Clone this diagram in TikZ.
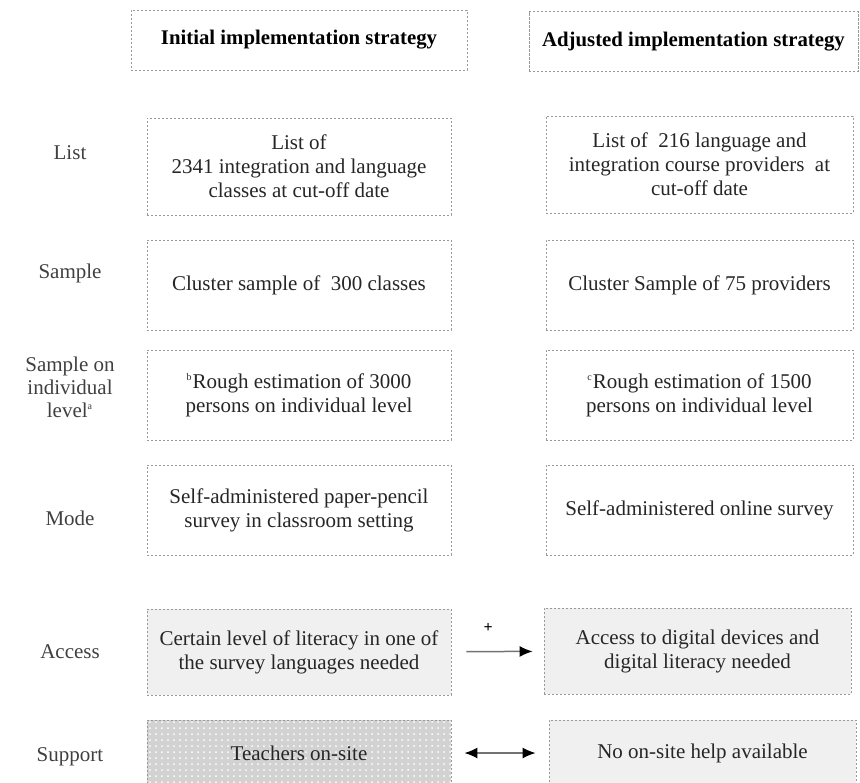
\documentclass[tikz,border=0pt]{standalone}
\usepackage{fontspec}
\setmainfont{Liberation Serif}
\usetikzlibrary{arrows.meta,patterns}

\begin{document}
\begin{tikzpicture}[x=0.5pt,y=-0.5pt,
  box/.style={draw=gray!80,dash pattern=on 1.2pt off 0.8pt,line width=0.4pt,align=center,inner sep=0pt,text=black!85,font=\fontsize{10.5}{12}\selectfont},
  leftbox/.style={box,minimum width=152pt,minimum height=45pt},
  rightbox/.style={box,minimum width=153.5pt,minimum height=45pt},
  headbox/.style={box,text=black,minimum height=30pt,font=\fontsize{10.4}{12}\selectfont\bfseries},
  rowlabel/.style={align=center,text=black!75,font=\fontsize{10.5}{11.5}\selectfont},
  shaded/.style={fill=gray!12},
  dotted box/.style={preaction={fill=gray!35},pattern=dots,pattern color=white},
  conn/.style={line width=0.75pt,draw=gray!90!black},
  >={Latex[length=6.5pt,width=5.5pt,color=black]}]
\useasboundingbox (0,0) rectangle (860,782);
% column heads
\node[headbox,minimum width=168pt] (head1) at (299,40) {Initial implementation strategy};
\node[headbox,minimum width=164.5pt] (head2) at (693.5,41.5) {Adjusted implementation strategy};
% row labels
\node[rowlabel] (lab1) at (70,153) {List};
\node[rowlabel] (lab2) at (70,273) {Sample};
\node[rowlabel] (lab3) at (70,387) {Sample on\\individual\\level\textsuperscript{\tiny a}};
\node[rowlabel] (lab4) at (70,518) {Mode};
\node[rowlabel] (lab5) at (70,652) {Access};
\node[rowlabel] (lab6) at (70,757) {Support};
% initial strategy
\node[leftbox,minimum height=48.5pt] (list1) at (299,166.5) {List of\\2341 integration and language\\classes at cut-off date};
\node[leftbox] (samp1) at (299,285) {Cluster sample of \ 300 classes};
\node[leftbox] (ind1) at (299,395) {\textsuperscript{\tiny b}Rough estimation of 3000\\persons on individual level};
\node[leftbox] (mode1) at (299,510) {Self-administered paper-pencil\\survey in classroom setting};
\node[leftbox,shaded,minimum height=43pt] (acc1) at (299,652) {Certain level of literacy in one of\\the survey languages needed};
\node[leftbox,dotted box,minimum height=33pt] (sup1) at (299,753) {Teachers on-site};
% adjusted strategy
\node[rightbox,minimum height=48.5pt] (list2) at (699.5,164.5) {List of \ 216 language and\\integration course providers \ at\\cut-off date};
\node[rightbox] (samp2) at (699.5,285) {Cluster Sample of 75 providers};
\node[rightbox] (ind2) at (699.5,395) {\textsuperscript{\tiny c}Rough estimation of 1500\\persons on individual level};
\node[rightbox] (mode2) at (699.5,510) {Self-administered online survey};
\node[rightbox,shaded,minimum height=43pt] (acc2) at (697.5,651) {Access to digital devices and\\digital literacy needed};
\node[rightbox,shaded,minimum height=33pt] (sup2) at (702.5,753) {No on-site help available};
% connectors
\draw[conn,->,shorten <=7.5pt,shorten >=5.5pt] (acc1) -- node[above=6pt,pos=0.4,font=\footnotesize\bfseries] {+} (acc2);
\draw[conn,<->,shorten <=6.5pt,shorten >=6.5pt] (sup1) -- (sup2);
\end{tikzpicture}
\end{document}
